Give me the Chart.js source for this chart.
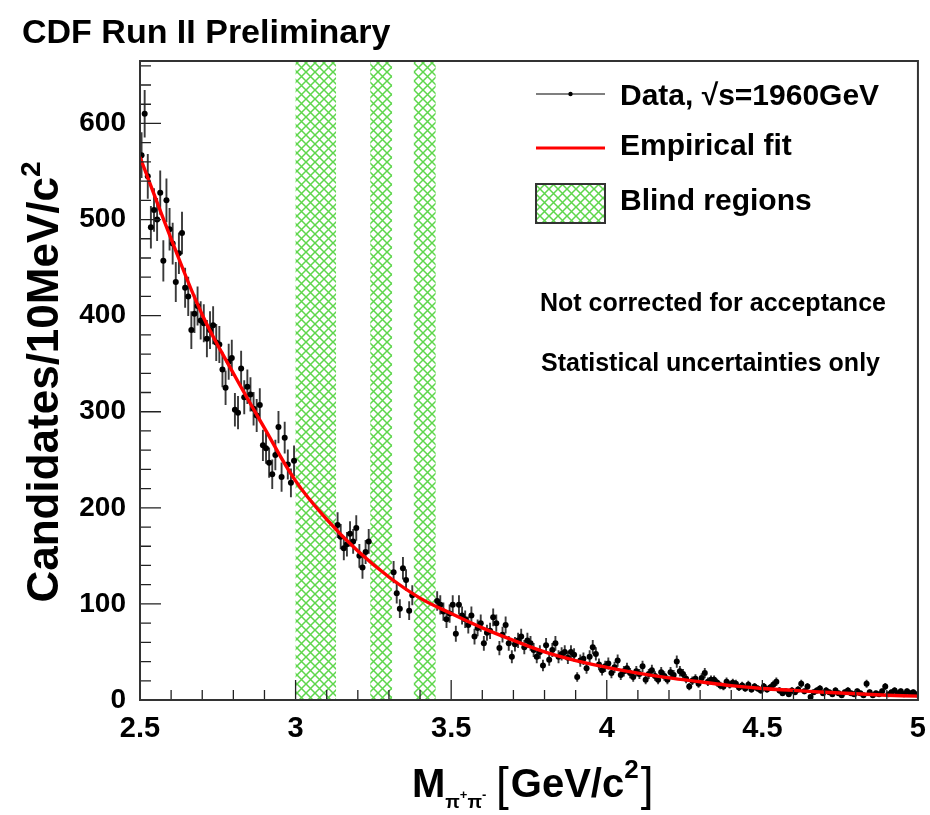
<!DOCTYPE html>
<html>
<head>
<meta charset="utf-8">
<script src="https://cdn.jsdelivr.net/npm/chart.js@4.4.1/dist/chart.umd.min.js"></script>
<style>
  html, body { margin: 0; padding: 0; background: #fff; }
  #massChart { display: block; }
</style>
</head>
<body>
<canvas id="massChart" width="930" height="815"></canvas>
<script>
// Candidates per 10 MeV/c^2 bin, 2.50 - 5.00 GeV/c^2 (null = blinded bin)
const binLow = 2.5;
const binWidth = 0.01;
const counts = [
  567, 610, 545, 492, 510, 500, 528, 457, 520, 490,
  475, 435, 465, 486, 429, 420, 385, 402, 410, 395,
  392, 376, 385, 390, 372, 370, 344, 325, 352, 356,
  302, 299, 345, 315, 326, 318, 303, 296, 307, 265,
  262, 247, 235, 255, 284, 232, 273, 245, 226, 249,
  null, null, null, null, null, null, null, null, null, null,
  null, null, null, 182, 170, 158, 162, 173, 165, 179,
  150, 138, 154, 165, null, null, null, null, null, null,
  null, 133, 111, 95, 137, 125, 93, 109, null, null,
  null, null, null, null, null, 103, 99, 92, 84, 90,
  99, 69, 99, 88, 84, 78, 88, 66, 75, 80,
  59, 70, 72, 86, 80, 54, 68, 78, 59, 45,
  58, 62, 66, 55, 62, 59, 52, 45, 50, 36,
  57, 42, 52, 59, 45, 48, 50, 44, 50, 47,
  24, 41, 43, 33, 45, 55, 48, 37, 31, 35,
  38, 28, 34, 41, 26, 30, 33, 28, 24, 30,
  27, 35, 21, 27, 31, 25, 21, 29, 25, 21,
  29, 26, 40, 30, 27, 22, 14, 20, 22, 17,
  23, 28, 19, 21, 21, 18, 15, 14, 19, 16,
  18, 17, 13, 15, 12, 16, 11, 14, 12, 10,
  14, 11, 13, 16, 19, 10, 7, 9, 6, 10,
  8, 11, 17, 9, 14, 3, 8, 10, 12, 7,
  10, 8, 6, 10, 7, 5, 8, 10, 7, 6,
  9, 7, 5, 17, 8, 5, 7, 6, 9, 14,
  6, 8, 10, 7, 9, 6, 9, 7, 8, 6
];

// empirical fit
const fitMass = [2.5, 2.6, 2.7, 2.8, 2.9, 3.0, 3.1, 3.2, 3.3, 3.4, 3.5, 3.6, 3.7,
                 3.8, 3.9, 4.0, 4.1, 4.2, 4.3, 4.4, 4.5, 4.6, 4.7, 4.8, 4.9, 5.0];
const fitValues = [565, 480, 401, 340, 283, 228, 188, 155, 128, 106, 90, 75, 62,
                   50, 41, 34, 28, 23, 19, 15, 12, 10, 8, 6.5, 5, 4];

// blinded mass windows
const blindLow = [3.00, 3.24, 3.38];
const blindHigh = [3.13, 3.31, 3.45];

const yTicks = [0, 100, 200, 300, 400, 500, 600];
const xTicks = [2.5, 3, 3.5, 4, 4.5, 5];

const FONT = '"Liberation Sans", Arial, Helvetica, sans-serif';
const HATCH_GREEN = '#5ed64c';

function makeHatch(ctx) {
    const c = document.createElement('canvas');
    c.width = 9; c.height = 9;
    const g = c.getContext('2d');
    g.strokeStyle = HATCH_GREEN;
    g.lineWidth = 1.5;
    g.beginPath();
    g.moveTo(-1, -1); g.lineTo(10, 10);
    g.moveTo(10, -1); g.lineTo(-1, 10);
    g.stroke();
    return ctx.createPattern(c, 'repeat');
}

const points = counts.map((v, i) => ({ x: binLow + binWidth * (i + 0.5), y: v }))
                     .filter(p => p.y !== null);
const fitPoints = fitMass.map((m, i) => ({ x: m, y: fitValues[i] }));

// blind regions + error bars, under the markers
const underlayPlugin = {
    id: 'underlay',
    beforeDatasetsDraw(chart) {
        const { ctx, chartArea: a, scales: { x, y } } = chart;
        ctx.save();
        ctx.beginPath();
        ctx.rect(a.left, a.top, a.right - a.left, a.bottom - a.top);
        ctx.clip();
        ctx.fillStyle = makeHatch(ctx);
        blindLow.forEach((lo, i) => {
            const x0 = x.getPixelForValue(lo);
            const x1 = x.getPixelForValue(blindHigh[i]);
            ctx.fillRect(x0, a.top, x1 - x0, a.bottom - a.top);
        });
        ctx.strokeStyle = '#3a3a3a';
        ctx.lineWidth = 1.9;
        ctx.beginPath();
        points.forEach(p => {
            const err = Math.sqrt(p.y);
            const px = x.getPixelForValue(p.x);
            ctx.moveTo(px, y.getPixelForValue(p.y + err));
            ctx.lineTo(px, y.getPixelForValue(Math.max(0, p.y - err)));
        });
        ctx.stroke();
        ctx.restore();
    }
};

// frame, inside ticks, titles, legend and notes
const decorPlugin = {
    id: 'decor',
    afterDraw(chart) {
        const { ctx, chartArea: a, scales: { x, y } } = chart;
        ctx.save();

        // ticks
        ctx.strokeStyle = '#222';
        ctx.lineWidth = 1.3;
        ctx.beginPath();
        for (let v = 0; v <= 660; v += 20) {
            const py = y.getPixelForValue(v);
            const len = v % 100 === 0 ? 21 : 11;
            ctx.moveTo(a.left, py); ctx.lineTo(a.left + len, py);
        }
        for (let k = 0; k <= 25; k++) {
            const px = x.getPixelForValue(2.5 + k * 0.1);
            const len = k % 5 === 0 ? 20 : 10;
            ctx.moveTo(px, a.bottom); ctx.lineTo(px, a.bottom - len);
        }
        ctx.stroke();

        // frame
        ctx.strokeStyle = '#333';
        ctx.lineWidth = 2;
        ctx.strokeRect(a.left, a.top, a.right - a.left, a.bottom - a.top);

        ctx.fillStyle = '#000';
        ctx.textBaseline = 'alphabetic';

        // title
        ctx.font = 'bold 34px ' + FONT;
        ctx.textAlign = 'left';
        ctx.fillText('CDF Run II Preliminary', 22, 43);

        // y title
        ctx.save();
        ctx.translate(58, 382);
        ctx.rotate(-Math.PI / 2);
        ctx.font = 'bold 44px ' + FONT;
        const yMain = 'Candidates/10MeV/c';
        const wMain = ctx.measureText(yMain).width;
        ctx.font = 'bold 28px ' + FONT;
        const wSup = ctx.measureText('2').width;
        const yStart = -(wMain + wSup) / 2;
        ctx.font = 'bold 44px ' + FONT;
        ctx.fillText(yMain, yStart, 0);
        ctx.font = 'bold 28px ' + FONT;
        ctx.fillText('2', yStart + wMain, -18);
        ctx.restore();

        // x title
        let cx = 412;
        ctx.font = 'bold 40px ' + FONT;
        ctx.fillText('M', cx, 797);
        cx += ctx.measureText('M').width;
        ctx.font = 'bold 19px ' + FONT;
        ctx.fillText('\u03c0', cx, 808);
        cx += ctx.measureText('\u03c0').width;
        ctx.font = 'bold 13px ' + FONT;
        ctx.fillText('+', cx, 799);
        cx += ctx.measureText('+').width;
        ctx.font = 'bold 19px ' + FONT;
        ctx.fillText('\u03c0', cx, 808);
        cx += ctx.measureText('\u03c0').width;
        ctx.font = 'bold 13px ' + FONT;
        ctx.fillText('-', cx, 799);
        cx = 496;
        ctx.font = '46px ' + FONT;
        ctx.fillText('[', cx, 800);
        cx += ctx.measureText('[').width + 2;
        ctx.font = 'bold 40px ' + FONT;
        ctx.fillText('GeV/c', cx, 797);
        cx += ctx.measureText('GeV/c').width;
        ctx.font = 'bold 26px ' + FONT;
        ctx.fillText('2', cx, 778);
        cx += ctx.measureText('2').width + 2;
        ctx.font = '46px ' + FONT;
        ctx.fillText(']', cx, 800);

        // legend
        const lx0 = 536, lx1 = 605, tx = 620;
        ctx.strokeStyle = '#000';
        ctx.lineWidth = 1.2;
        ctx.beginPath();
        ctx.moveTo(lx0, 94); ctx.lineTo(lx1, 94);
        ctx.stroke();
        ctx.beginPath();
        ctx.arc((lx0 + lx1) / 2, 94, 2.2, 0, Math.PI * 2);
        ctx.fill();
        ctx.strokeStyle = '#ff0000';
        ctx.lineWidth = 3;
        ctx.beginPath();
        ctx.moveTo(lx0, 148); ctx.lineTo(lx1, 148);
        ctx.stroke();
        ctx.fillStyle = makeHatch(ctx);
        ctx.fillRect(lx0, 184, lx1 - lx0, 39);
        ctx.strokeStyle = '#333';
        ctx.lineWidth = 2;
        ctx.strokeRect(lx0, 184, lx1 - lx0, 39);

        ctx.fillStyle = '#000';
        ctx.font = 'bold 30px ' + FONT;
        ctx.fillText('Data, \u221as=1960GeV', tx, 105);
        ctx.fillText('Empirical fit', tx, 155);
        ctx.fillText('Blind regions', tx, 210);

        ctx.font = 'bold 25px ' + FONT;
        ctx.fillText('Not corrected for acceptance', 540, 311);
        ctx.fillText('Statistical uncertainties only', 541, 371);

        ctx.restore();
    }
};

new Chart(document.getElementById('massChart'), {
    type: 'scatter',
    data: {
        datasets: [
            {
                label: 'Empirical fit',
                data: fitPoints,
                showLine: true,
                borderColor: '#ff0000',
                borderWidth: 3.4,
                tension: 0.4,
                pointRadius: 0,
                fill: false
            },
            {
                label: 'Data',
                data: points,
                showLine: false,
                pointRadius: 3,
                pointBackgroundColor: '#000',
                pointBorderColor: '#000',
                pointBorderWidth: 0
            }
        ]
    },
    options: {
        responsive: false,
        animation: false,
        devicePixelRatio: 1,
        layout: { padding: { left: 0, top: 61, right: 8, bottom: 0 } },
        plugins: {
            legend: { display: false },
            tooltip: { enabled: false }
        },
        scales: {
            x: {
                type: 'linear',
                min: 2.5,
                max: 5,
                grid: { display: false },
                border: { display: false },
                afterBuildTicks: s => { s.ticks = xTicks.map(v => ({ value: v })); },
                afterFit: s => { s.height = 115; },
                ticks: {
                    autoSkip: false,
                    maxRotation: 0,
                    padding: 4,
                    color: '#000',
                    font: { family: FONT, size: 29, weight: 'bold' },
                    callback: v => String(Number(v.toFixed(2)))
                }
            },
            y: {
                min: 0,
                max: 665,
                grid: { display: false },
                border: { display: false },
                afterBuildTicks: s => { s.ticks = yTicks.map(v => ({ value: v })); },
                afterFit: s => { s.width = 140; },
                ticks: {
                    padding: 6,
                    color: '#000',
                    font: { family: FONT, size: 28, weight: 'bold' },
                    callback: v => String(v)
                }
            }
        }
    },
    plugins: [underlayPlugin, decorPlugin]
});
</script>
</body>
</html>
